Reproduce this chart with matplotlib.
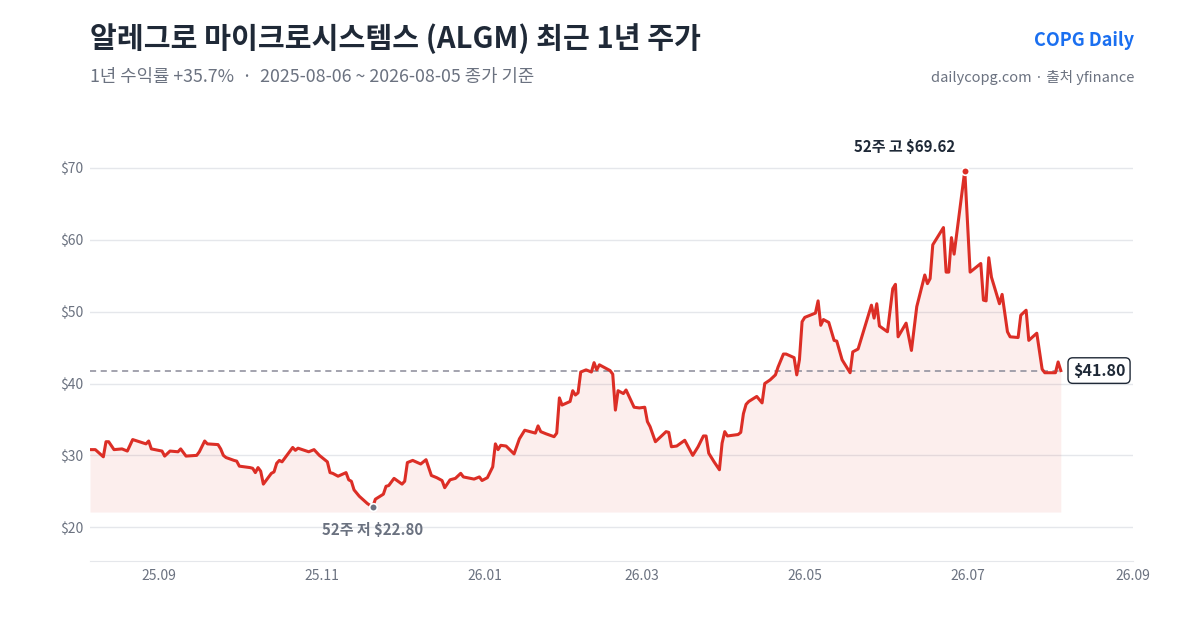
import pandas as pd
import matplotlib
matplotlib.use("Agg")
import matplotlib.pyplot as plt
import matplotlib.dates as mdates

plt.rcParams['font.family'] = ['Noto Sans CJK KR', 'DejaVu Sans']

# closing prices
dates = [
    "2025-08-06", "2025-08-08", "2025-08-11", "2025-08-12", "2025-08-13", "2025-08-15",
    "2025-08-18", "2025-08-20", "2025-08-22", "2025-08-27", "2025-08-28", "2025-08-29",
    "2025-09-02", "2025-09-03", "2025-09-05", "2025-09-08", "2025-09-09", "2025-09-11",
    "2025-09-15", "2025-09-16", "2025-09-18", "2025-09-19", "2025-09-23", "2025-09-24",
    "2025-09-25", "2025-09-26", "2025-09-29", "2025-09-30", "2025-10-01", "2025-10-05",
    "2025-10-06", "2025-10-07", "2025-10-08", "2025-10-09", "2025-10-10", "2025-10-13",
    "2025-10-14", "2025-10-15", "2025-10-16", "2025-10-17", "2025-10-21", "2025-10-22",
    "2025-10-23", "2025-10-27", "2025-10-29", "2025-10-31", "2025-11-03", "2025-11-04",
    "2025-11-05", "2025-11-07", "2025-11-10", "2025-11-11", "2025-11-12", "2025-11-13",
    "2025-11-15", "2025-11-18", "2025-11-20", "2025-11-21", "2025-11-24", "2025-11-25",
    "2025-11-26", "2025-11-28", "2025-12-01", "2025-12-02", "2025-12-03", "2025-12-05",
    "2025-12-08", "2025-12-10", "2025-12-12", "2025-12-14", "2025-12-16", "2025-12-17",
    "2025-12-19", "2025-12-21", "2025-12-23", "2025-12-24", "2025-12-28", "2025-12-30",
    "2025-12-31", "2026-01-02", "2026-01-04", "2026-01-05", "2026-01-06", "2026-01-07",
    "2026-01-09", "2026-01-12", "2026-01-14", "2026-01-16", "2026-01-18", "2026-01-20",
    "2026-01-21", "2026-01-22", "2026-01-24", "2026-01-27", "2026-01-28", "2026-01-29",
    "2026-01-30", "2026-02-02", "2026-02-03", "2026-02-04", "2026-02-05", "2026-02-06",
    "2026-02-08", "2026-02-10", "2026-02-11", "2026-02-12", "2026-02-13", "2026-02-17",
    "2026-02-18", "2026-02-19", "2026-02-20", "2026-02-22", "2026-02-23", "2026-02-26",
    "2026-02-28", "2026-03-02", "2026-03-03", "2026-03-04", "2026-03-06", "2026-03-08",
    "2026-03-10", "2026-03-11", "2026-03-12", "2026-03-14", "2026-03-17", "2026-03-20",
    "2026-03-22", "2026-03-24", "2026-03-25", "2026-03-26", "2026-03-28", "2026-03-30",
    "2026-03-31", "2026-04-01", "2026-04-02", "2026-04-06", "2026-04-07", "2026-04-08",
    "2026-04-09", "2026-04-10", "2026-04-13", "2026-04-15", "2026-04-16", "2026-04-18",
    "2026-04-20", "2026-04-21", "2026-04-23", "2026-04-24", "2026-04-27", "2026-04-28",
    "2026-04-29", "2026-04-30", "2026-05-01", "2026-05-05", "2026-05-06", "2026-05-07",
    "2026-05-08", "2026-05-10", "2026-05-12", "2026-05-13", "2026-05-15", "2026-05-18",
    "2026-05-19", "2026-05-21", "2026-05-26", "2026-05-27", "2026-05-28", "2026-05-29",
    "2026-06-01", "2026-06-03", "2026-06-04", "2026-06-05", "2026-06-08", "2026-06-10",
    "2026-06-12", "2026-06-15", "2026-06-16", "2026-06-17", "2026-06-18", "2026-06-22",
    "2026-06-23", "2026-06-24", "2026-06-25", "2026-06-26", "2026-06-30", "2026-07-02",
    "2026-07-06", "2026-07-07", "2026-07-08", "2026-07-09", "2026-07-10", "2026-07-13",
    "2026-07-14", "2026-07-16", "2026-07-17", "2026-07-20", "2026-07-21", "2026-07-23",
    "2026-07-24", "2026-07-27", "2026-07-29", "2026-07-30", "2026-08-03", "2026-08-04",
    "2026-08-05",
]
prices = [
    30.8, 30.8, 29.8, 31.9, 31.9, 30.8,
    30.9, 30.6, 32.2, 31.6, 32.0, 30.9,
    30.6, 29.9, 30.6, 30.5, 30.9, 29.9,
    30.0, 30.5, 32.0, 31.6, 31.5, 30.9,
    30.0, 29.7, 29.3, 29.2, 28.5, 28.3,
    28.2, 27.6, 28.3, 27.8, 26.0, 27.5,
    27.7, 28.9, 29.3, 29.1, 31.1, 30.7,
    31.0, 30.5, 30.8, 30.0, 29.1, 27.6,
    27.5, 27.1, 27.6, 26.6, 26.4, 25.2,
    24.3, 23.3, 22.8, 23.9, 24.6, 25.7,
    25.8, 26.8, 26.0, 26.4, 29.0, 29.3,
    28.8, 29.4, 27.2, 26.9, 26.5, 25.5,
    26.6, 26.8, 27.5, 27.0, 26.7, 27.0,
    26.5, 26.9, 28.4, 31.6, 30.8, 31.4,
    31.3, 30.2, 32.3, 33.5, 33.3, 33.1,
    34.1, 33.3, 33.0, 32.6, 33.1, 38.0,
    37.0, 37.5, 39.0, 38.4, 38.7, 41.6,
    41.9, 41.6, 42.9, 41.9, 42.6, 41.8,
    41.3, 36.3, 39.0, 38.6, 39.1, 36.7,
    36.6, 36.7, 34.7, 34.0, 31.9, 32.6,
    33.3, 33.2, 31.2, 31.3, 32.1, 30.0,
    31.2, 32.7, 32.7, 30.3, 29.1, 28.0,
    31.7, 33.3, 32.7, 32.9, 33.2, 35.8,
    37.1, 37.5, 38.2, 37.3, 40.0, 40.5,
    41.2, 42.3, 44.1, 44.1, 43.6, 41.2,
    43.3, 48.6, 49.2, 49.8, 51.5, 48.1,
    48.9, 48.5, 46.0, 45.9, 43.3, 41.5,
    44.4, 44.8, 50.9, 49.1, 51.1, 48.0,
    47.2, 53.2, 53.8, 46.5, 48.4, 44.6,
    50.7, 55.1, 53.9, 54.6, 59.3, 61.7,
    55.5, 55.5, 60.3, 58.0, 69.62, 55.5,
    56.7, 51.6, 51.5, 57.5, 54.8, 51.1,
    52.4, 47.2, 46.5, 46.4, 49.5, 50.2,
    46.0, 47.0, 42.0, 41.5, 41.5, 43.0,
    41.80,
]

y_ticks = [20, 30, 40, 50, 60, 70]
x_ticks = ["2025-09-01", "2025-11-01", "2026-01-01", "2026-03-01", "2026-05-01", "2026-07-01", "2026-09-01"]

title = "알레그로 마이크로시스템스 (ALGM) 최근 1년 주가"
subtitle = "1년 수익률 +35.7%  ·  2025-08-06 ~ 2026-08-05 종가 기준"
brand = "COPG Daily"
source = "dailycopg.com · 출처 yfinance"

red = "#dc2e26"
gray = "#6b7280"
dark = "#1f2937"

df = pd.DataFrame({"date": pd.to_datetime(dates), "close": prices})
lo = df.loc[df["close"].idxmin()]
hi = df.loc[df["close"].idxmax()]
last = df.iloc[-1]
base = lo["close"] * 0.97

fig = plt.figure(figsize=(12, 6.3), dpi=100)
ax = fig.add_axes([0.075, 0.1095, 0.869, 0.681])

ax.plot(df["date"], df["close"], color=red, lw=2.2, zorder=3, solid_joinstyle="round")
ax.fill_between(df["date"], df["close"], base, color=red, alpha=0.08, lw=0, zorder=2)
ax.hlines(last["close"], df["date"].iloc[0], df["date"].iloc[-1], colors="#8a8a99",
          linestyles=(0, (4, 3)), lw=1.1, zorder=2)

ax.set_xlim(df["date"].iloc[0], pd.Timestamp("2026-09-01"))
ax.set_ylim(15.3, 75)
ax.set_yticks(y_ticks)
ax.set_yticklabels([f"${v}" for v in y_ticks])
xt = pd.to_datetime(x_ticks)
ax.set_xticks(xt)
ax.xaxis.set_major_formatter(mdates.DateFormatter("%y.%m"))
ax.grid(axis="y", color="#e5e7eb", lw=1)
ax.set_axisbelow(True)
ax.tick_params(length=0, labelsize=10, colors=gray, pad=6)
ax.tick_params(axis="y", pad=5)
for s in ["top", "right", "left"]:
    ax.spines[s].set_visible(False)
ax.spines["bottom"].set_color("#e5e7eb")

# 52-week low / high markers
ax.scatter([lo["date"]], [lo["close"]], s=30, color=gray, edgecolor="white", lw=1.2, zorder=4)
ax.annotate(f"52주 저 ${lo['close']:.2f}", (lo["date"], lo["close"]), xytext=(0, -23),
            textcoords="offset pixels", ha="center", va="center", fontsize=10.8,
            fontweight="bold", color=gray)
ax.scatter([hi["date"]], [hi["close"]], s=30, color=red, edgecolor="white", lw=1.2, zorder=4)
ax.annotate(f"52주 고 ${hi['close']:.2f}", (hi["date"], hi["close"]), xytext=(-60, 24),
            textcoords="offset pixels", ha="center", va="center", fontsize=10.8,
            fontweight="bold", color=dark, annotation_clip=False)

# last price tag
ax.annotate(f"${last['close']:.2f}", (last["date"], last["close"]), xytext=(12, 0),
            textcoords="offset pixels", ha="left", va="center", fontsize=11.5,
            fontweight="bold", color=dark, annotation_clip=False,
            bbox=dict(boxstyle="round,pad=0.3,rounding_size=0.3", fc="white", ec=dark, lw=1))

fig.text(0.075, 0.938, title, fontsize=21, fontweight="bold", color=dark, va="center")
fig.text(0.075, 0.878, subtitle, fontsize=12.8, color=gray, va="center")
fig.text(0.945, 0.936, brand, fontsize=13, fontweight="bold", color="#1a6ff0", ha="right", va="center")
fig.text(0.945, 0.877, source, fontsize=10.5, color=gray, ha="right", va="center")

fig.savefig("out.png", dpi=100, facecolor="white")
